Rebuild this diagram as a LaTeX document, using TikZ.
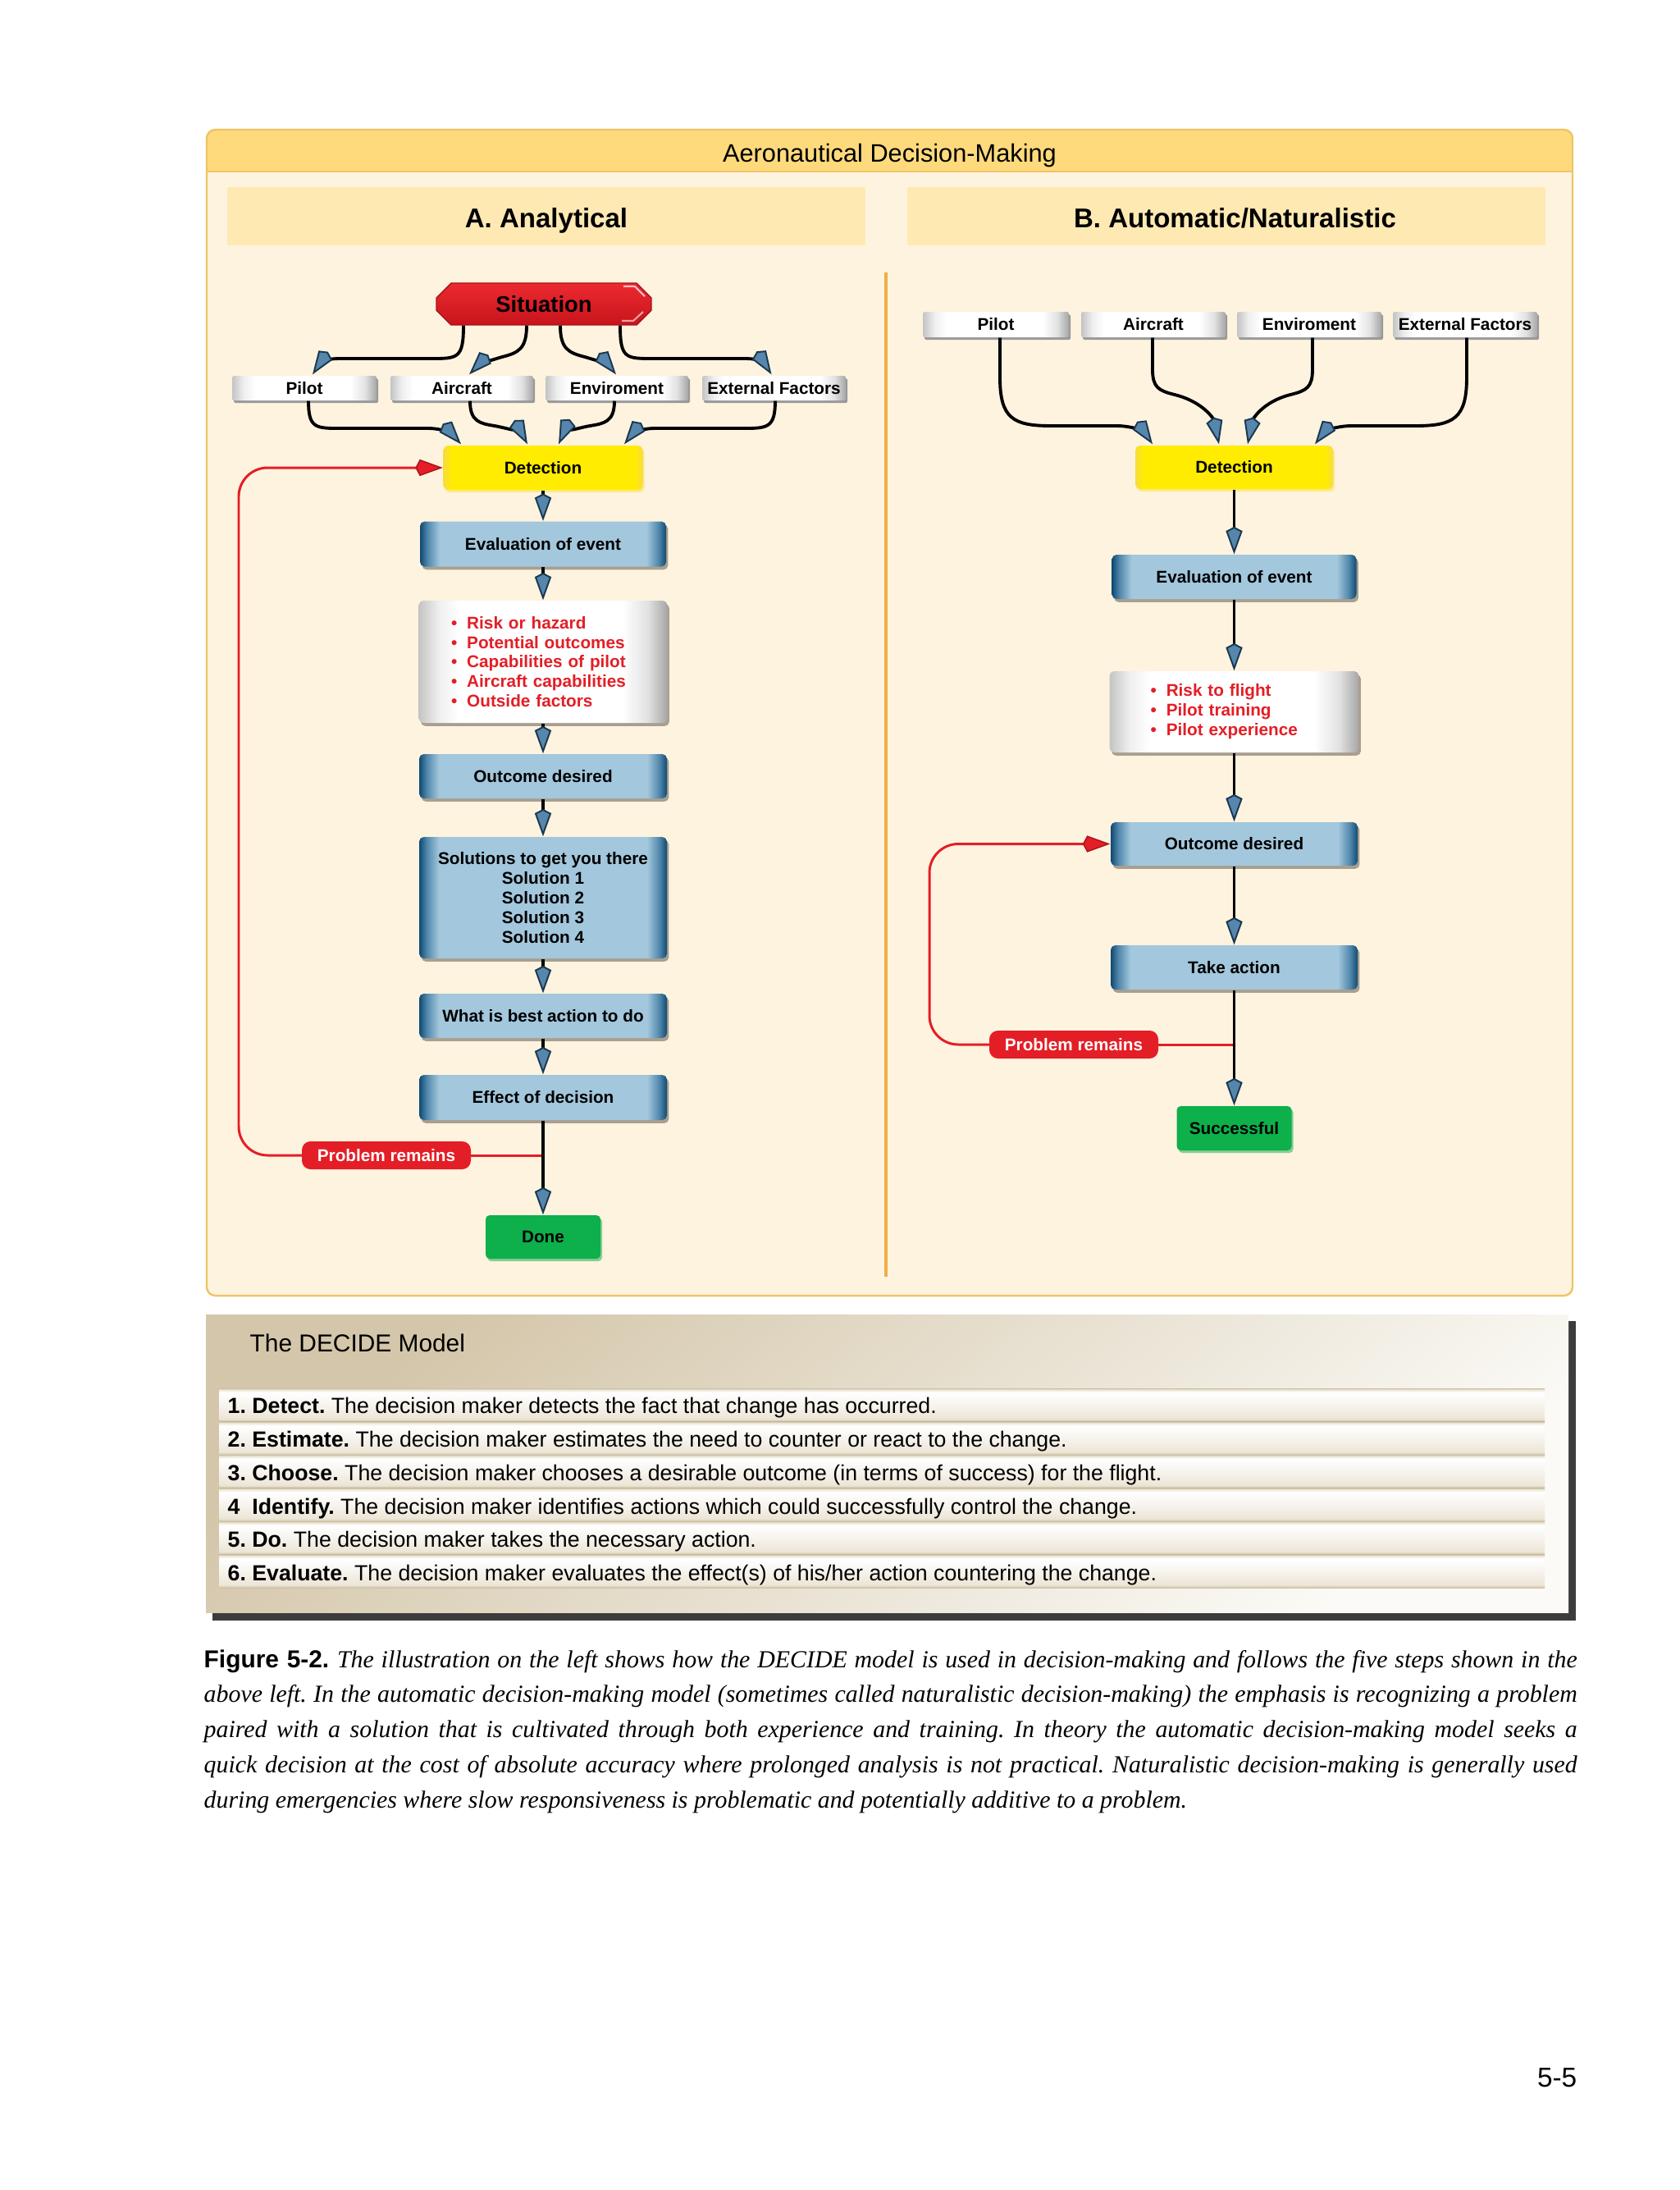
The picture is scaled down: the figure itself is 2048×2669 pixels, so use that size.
\documentclass[tikz,border=0pt]{standalone}
\usepackage{fontspec}
\setmainfont{Liberation Sans}
\newfontfamily\capserif{Liberation Serif}
\usetikzlibrary{arrows.meta,shadows,calc}
\frenchspacing

\definecolor{cream}{HTML}{FEF3DF}
\definecolor{hdr}{HTML}{FEDA7C}
\definecolor{subhdrc}{HTML}{FEE9B3}
\definecolor{frameline}{HTML}{EFC465}
\definecolor{divider}{HTML}{F0AE45}
\definecolor{bdark}{HTML}{0F4A72}
\definecolor{bmid}{HTML}{4F86AB}
\definecolor{blight}{HTML}{A3C7DC}
\definecolor{wgrayL}{HTML}{C4C4C4}
\definecolor{wgrayLL}{HTML}{EFEFEF}
\definecolor{wgrayR}{HTML}{A6A6A6}
\definecolor{wgrayRR}{HTML}{E2E2E2}
\definecolor{ylw}{HTML}{FFEC00}
\definecolor{ylwedge}{HTML}{F7DC40}
\definecolor{ylwsh}{HTML}{FBE98A}
\definecolor{redc}{HTML}{E41E26}
\definecolor{reddk}{HTML}{A8121A}
\definecolor{sitTop}{HTML}{EC2A30}
\definecolor{sitBot}{HTML}{C8141C}
\definecolor{grn}{HTML}{0DB04B}
\definecolor{grnsh}{HTML}{86CE92}
\definecolor{arrblue}{HTML}{5686AC}
\definecolor{arrdark}{HTML}{1A3850}
\definecolor{shadowc}{HTML}{A89F90}
\definecolor{beigeD}{HTML}{D4C6AA}
\definecolor{beigeL}{HTML}{FBFAF6}
\definecolor{bandD}{HTML}{CDC1A6}
\definecolor{bandM}{HTML}{ECE5D6}
\definecolor{bandL}{HTML}{F7F4EE}
\definecolor{decshadow}{HTML}{3C3C3C}

\pgfdeclarehorizontalshading{bluesh}{100bp}{color(0bp)=(bdark); color(25bp)=(bdark); color(26.5bp)=(bmid); color(29bp)=(blight); color(71bp)=(blight); color(73.5bp)=(bmid); color(75bp)=(bdark); color(100bp)=(bdark)}
\pgfdeclarehorizontalshading{whitesh}{100bp}{color(0bp)=(wgrayL); color(25bp)=(wgrayL); color(29bp)=(wgrayLL); color(33bp)=(white); color(66bp)=(white); color(71bp)=(wgrayRR); color(75bp)=(wgrayR); color(100bp)=(wgrayR)}
\pgfdeclarehorizontalshading{yelsh}{100bp}{color(0bp)=(ylwedge); color(25bp)=(ylwedge); color(27bp)=(ylw); color(73bp)=(ylw); color(75bp)=(ylwedge); color(100bp)=(ylwedge)}
\pgfdeclareverticalshading{bandsh}{100bp}{color(0bp)=(bandD); color(25bp)=(bandD); color(29bp)=(bandM); color(50bp)=(bandL); color(69bp)=(white); color(73bp)=(bandM); color(75bp)=(bandD); color(100bp)=(bandD)}

\tikzset{
  lbl/.style={font=\fontsize{5.9}{6.8}\selectfont\bfseries, inner sep=0pt, align=center},
  bluebox/.style={lbl, shade, shading=bluesh, rounded corners=1.6pt,
    drop shadow={shadow xshift=0.7pt, shadow yshift=-1.1pt, fill=shadowc, opacity=1}},
  factor/.style={lbl, shade, shading=whitesh, rounded corners=0.5pt,
    minimum height=3mm,
    drop shadow={shadow xshift=0.6pt, shadow yshift=-0.9pt, fill=gray!80, opacity=1}},
  bullets/.style={lbl, align=left, text=redc, shade, shading=whitesh, rounded corners=1.6pt,
    drop shadow={shadow xshift=0.7pt, shadow yshift=-1.1pt, fill=shadowc, opacity=1}},
  detbox/.style={lbl, shade, shading=yelsh, rounded corners=1.6pt,
    drop shadow={shadow xshift=0.6pt, shadow yshift=-0.9pt, fill=ylwsh, opacity=1}},
  greenbox/.style={lbl, fill=grn, rounded corners=1.4pt,
    drop shadow={shadow xshift=0.6pt, shadow yshift=-0.9pt, fill=grnsh, opacity=1}},
  probbox/.style={lbl, text=white, fill=redc, rounded corners=3pt},
  subhdr/.style={fill=subhdrc, minimum width=77.8mm, minimum height=7.1mm, inner sep=0pt,
    text height=8.2pt, text depth=0pt,
    font=\fontsize{9.4}{11}\selectfont\bfseries},
  arr/.style={line width=1.1pt, black,
    -{Kite[length=9.5pt,width=5.8pt,inset=1.5pt,fill=arrblue,color=arrdark,line width=0.55pt]}},
  redarr/.style={line width=0.85pt, redc,
    -{Kite[length=9.5pt,width=5.8pt,inset=1.5pt,fill=redc,color=reddk,line width=0.4pt]}},
  redline/.style={line width=0.85pt, redc},
  dec/.style={anchor=base west, inner sep=0pt, font=\fontsize{7.6}{9}\selectfont},
}
\newcommand{\bul}{\textbullet\hspace{1.2mm}}

\begin{document}
\begin{tikzpicture}[x=0.1mm,y=-0.1mm]
\useasboundingbox (0,0) rectangle (2048,2669);
\fill[white] (0,0) rectangle (2048,2669);

% ---------------- main frame ----------------
\fill[cream, rounded corners=3pt] (252,158) rectangle (1917,1579);
\begin{scope}
  \clip[rounded corners=3pt] (252,158) rectangle (1917,1579);
  \fill[hdr] (252,158) rectangle (1917,209);
\end{scope}
\draw[frameline, line width=0.8pt] (252,209) -- (1917,209);
\draw[frameline, line width=0.7pt, rounded corners=3pt] (252,158) rectangle (1917,1579);
\node[anchor=base, inner sep=0pt, font=\fontsize{8.75}{10}\selectfont] (title) at (1084.5,197) {Aeronautical Decision-Making};

\node[subhdr] (subA) at (666,263.5) {A. Analytical};
\node[subhdr] (subB) at (1494.5,263.5) {\hspace*{2.2mm}B. Automatic/Naturalistic};

\draw[divider, line width=0.9pt] (1080,332) -- (1080,1556);

% ---------------- A. Analytical ----------------
\shade[top color=sitTop, bottom color=sitBot, draw=reddk, line width=0.4pt]
  (550,345) -- (776,345) -- (794,363) -- (794,378) -- (776,396) -- (550,396) -- (532,378) -- (532,363) -- cycle;
\draw[white, line width=0.6pt, opacity=0.7] (760,349) -- (774,349) -- (786,361);
\draw[white, line width=0.6pt, opacity=0.6] (758,391) -- (772,391) -- (784,380);
\node[inner sep=0pt, minimum width=26.2mm, minimum height=5.1mm, font=\fontsize{7.8}{9}\selectfont\bfseries] (sit) at (663,370.5) {Situation};

\node[factor, minimum width=17.6mm] (pilotL) at (371,473) {Pilot};
\node[factor, minimum width=17.4mm] (airL) at (563,473) {Aircraft};
\node[factor, minimum width=17.4mm] (envL) at (752,473) {Enviroment};
\node[factor, minimum width=17.5mm] (extL) at (943.5,473) {External Factors};

\node[detbox, minimum width=24.3mm, minimum height=5.4mm] (detL) at (662,570) {Detection};
\node[bluebox, minimum width=30mm, minimum height=5.5mm] (evalL) at (662,663) {Evaluation of event};
\node[bullets, minimum width=30.3mm, minimum height=14.9mm, text width=22.4mm] (bulL) at (662,806.5)
  {\bul Risk or hazard\\\bul Potential outcomes\\\bul Capabilities of pilot\\\bul Aircraft capabilities\\\bul Outside factors};
\node[bluebox, minimum width=30.2mm, minimum height=5.4mm] (outL) at (662,946) {Outcome desired};
\node[bluebox, minimum width=30.2mm, minimum height=14.8mm] (solL) at (662,1094)
  {Solutions to get you there\\Solution 1\\Solution 2\\Solution 3\\Solution 4};
\node[bluebox, minimum width=30.2mm, minimum height=5.4mm] (bestL) at (662,1238) {What is best action to do};
\node[bluebox, minimum width=30.2mm, minimum height=5.5mm] (effL) at (662,1337.5) {Effect of decision};
\node[greenbox, minimum width=14mm, minimum height=5.3mm] (doneL) at (662,1507.5) {Done};

% feedback loop (left)
\coordinate (jL) at (662,1408);
\coordinate (loopL) at (291,1408);
\draw[redline] (jL) -- (471,1408);
\draw[redarr, rounded corners=10pt] (471,1408) -- (loopL) |- (detL.west);
\node[probbox, minimum width=20.6mm, minimum height=3.4mm] (probL) at (471,1408) {Problem remains};

% curved connectors Situation -> factors
\draw[arr] ($(sit.south)+(-98,0)$) .. controls (565,437) and (558,437) .. (525,437) -- (412,437)
  .. controls (398,437) and (390,443) .. ($(pilotL.north)+(10,-1)$);
\draw[arr] ($(sit.south)+(-21,0)$) .. controls (642,425) and (632,430) .. (612,435)
  .. controls (595,440) and (583,445) .. ($(airL.north)+(9,-1)$);
\draw[arr] ($(sit.south)+(20,0)$) .. controls (683,425) and (693,430) .. (713,435)
  .. controls (730,440) and (742,445) .. ($(envL.north)+(-1,-1)$);
\draw[arr] ($(sit.south)+(93,0)$) .. controls (756,437) and (763,437) .. (796,437) -- (910,437)
  .. controls (924,437) and (932,443) .. ($(extL.north)+(-3,-1)$);

% factors -> Detection
\draw[arr] ($(pilotL.south)+(5,0)$) .. controls (376,522) and (385,522) .. (415,522) -- (522,522)
  .. controls (540,522) and (552,530) .. ($(detL.north)+(-100,-1)$);
\draw[arr] ($(airL.south)+(10,0)$) .. controls (573,514) and (585,516) .. (603,519)
  .. controls (625,523) and (637,530) .. ($(detL.north)+(-19,-1)$);
\draw[arr] ($(envL.south)+(-3,0)$) .. controls (749,514) and (737,516) .. (719,519)
  .. controls (697,523) and (686,530) .. ($(detL.north)+(19,-1)$);
\draw[arr] ($(extL.south)+(1.5,0)$) .. controls (945,522) and (935,522) .. (905,522) -- (798,522)
  .. controls (780,522) and (770,530) .. ($(detL.north)+(99,-1)$);

% vertical flow
\draw[arr] (detL) -- (evalL);
\draw[arr] (evalL) -- (bulL);
\draw[arr] (bulL) -- (outL);
\draw[arr] (outL) -- (solL);
\draw[arr] (solL) -- (bestL);
\draw[arr] (bestL) -- (effL);
\draw[arr] (effL) -- (doneL);

% ---------------- B. Automatic / Naturalistic ----------------
\node[factor, minimum width=17.8mm, minimum height=3.1mm] (pilotR) at (1214,395.5) {Pilot};
\node[factor, minimum width=17.6mm, minimum height=3.1mm] (airR) at (1406,395.5) {Aircraft};
\node[factor, minimum width=17.6mm, minimum height=3.1mm] (envR) at (1596,395.5) {Enviroment};
\node[factor, minimum width=17.6mm, minimum height=3.1mm] (extR) at (1786,395.5) {External Factors};

\node[detbox, minimum width=24.1mm, minimum height=5.3mm] (detR) at (1504.5,569.5) {Detection};
\node[bluebox, minimum width=29.8mm, minimum height=5.4mm] (evalR) at (1504.5,703) {Evaluation of event};
\node[bullets, minimum width=30.4mm, minimum height=9.9mm, text width=20.4mm] (bulR) at (1504.5,867.5)
  {\bul Risk to flight\\\bul Pilot training\\\bul Pilot experience};
\node[bluebox, minimum width=30.1mm, minimum height=5.3mm] (outR) at (1504.5,1028.5) {Outcome desired};
\node[bluebox, minimum width=30.1mm, minimum height=5.4mm] (takeR) at (1504.5,1179) {Take action};
\node[greenbox, minimum width=14mm, minimum height=5.4mm] (succR) at (1504.5,1375) {Successful};

% feedback loop (right)
\coordinate (jR) at (1504.5,1273);
\coordinate (loopR) at (1133,1273);
\draw[redline] (jR) -- (1309,1273);
\draw[redarr, rounded corners=10pt] (1309,1273) -- (loopR) |- (outR.west);
\node[probbox, minimum width=20.6mm, minimum height=3.4mm] (probR) at (1309,1273) {Problem remains};

% factors -> Detection (right)
\draw[arr] ($(pilotR.south)+(5,0)$) -- (1219,460) .. controls (1219,510) and (1235,519) .. (1282,519) -- (1362,519)
  .. controls (1382,519) and (1396,528) .. ($(detR.north)+(-99.5,-1)$);
\draw[arr] ($(airR.south)+(-1,0)$) -- (1405,450) .. controls (1405,472) and (1412,476) .. (1432,481)
  .. controls (1468,490) and (1480,512) .. ($(detR.north)+(-18.5,-1)$);
\draw[arr] ($(envR.south)+(4,0)$) -- (1600,450) .. controls (1600,472) and (1593,476) .. (1573,481)
  .. controls (1538,490) and (1527,512) .. ($(detR.north)+(16.5,-1)$);
\draw[arr] ($(extR.south)+(2,0)$) -- (1788,460) .. controls (1788,510) and (1772,519) .. (1725,519) -- (1647,519)
  .. controls (1627,519) and (1613,528) .. ($(detR.north)+(98.5,-1)$);

\draw[arr] (detR) -- (evalR);
\draw[arr] (evalR) -- (bulR);
\draw[arr] (bulR) -- (outR);
\draw[arr] (outR) -- (takeR);
\draw[arr] (takeR) -- (succR);

% ---------------- DECIDE model ----------------
\fill[decshadow] (259,1610) rectangle (1921,1975);
\shade[top color=beigeD, bottom color=beigeL, shading angle=40] (251,1602) rectangle (1912,1965);
\foreach \i in {0,...,5} {
  \shade[shading=bandsh] (267,1692+40.5*\i) rectangle (1883,1732.5+40.5*\i);
}
\node[anchor=base west, inner sep=0pt, font=\fontsize{8.5}{10}\selectfont] (dectitle) at (304,1647) {The DECIDE Model};
\node[dec] (d1) at (277,1722) {\textbf{1. Detect.} The decision maker detects the fact that change has occurred.};
\node[dec] (d2) at (277,1763) {\textbf{2. Estimate.} The decision maker estimates the need to counter or react to the change.};
\node[dec] (d3) at (277,1804) {\textbf{3. Choose.} The decision maker chooses a desirable outcome (in terms of success) for the flight.};
\node[dec] (d4) at (277,1845) {\textbf{4\ \ Identify.} The decision maker identifies actions which could successfully control the change.};
\node[dec] (d5) at (277,1885) {\textbf{5. Do.} The decision maker takes the necessary action.};
\node[dec] (d6) at (277,1926) {\textbf{6. Evaluate.} The decision maker evaluates the effect(s) of his/her action countering the change.};

% ---------------- caption ----------------
\node[anchor=base west, inner sep=0pt] (caption) at (248,2032) {\parbox[t]{167.4mm}{\fontsize{8.5}{12.2}\selectfont
\makebox[\linewidth][s]{\textbf{Figure 5-2.} {\capserif\itshape The illustration on the left shows how the DECIDE model is used in decision-making and follows the five steps shown in the}}\\
\makebox[\linewidth][s]{\capserif\itshape above left. In the automatic decision-making model (sometimes called naturalistic decision-making) the emphasis is recognizing a problem}\\
\makebox[\linewidth][s]{\capserif\itshape paired with a solution that is cultivated through both experience and training. In theory the automatic decision-making model seeks a}\\
\makebox[\linewidth][s]{\capserif\itshape quick decision at the cost of absolute accuracy where prolonged analysis is not practical. Naturalistic decision-making is generally used}\\
{\capserif\itshape during emergencies where slow responsiveness is problematic and potentially additive to a problem.}}};

\node[anchor=base east, inner sep=0pt, font=\fontsize{9.5}{11}\selectfont] (pagenum) at (1923,2543) {5-5};
\end{tikzpicture}
\end{document}
